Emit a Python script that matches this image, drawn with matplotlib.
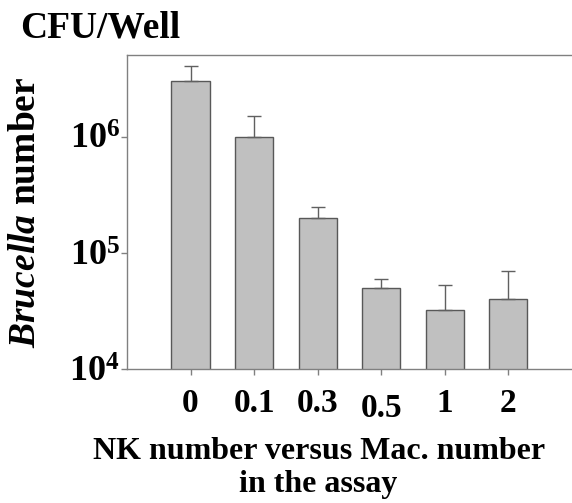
import numpy as np
import matplotlib.pyplot as plt
from matplotlib.transforms import ScaledTranslation

plt.rcParams['font.family'] = 'Liberation Serif'
plt.rcParams['font.weight'] = 'bold'
plt.rcParams['mathtext.fontset'] = 'custom'
plt.rcParams['mathtext.rm'] = 'Liberation Serif:bold'
plt.rcParams['mathtext.bf'] = 'Liberation Serif:bold'
plt.rcParams['mathtext.it'] = 'Liberation Serif:italic:bold'
plt.rcParams['mathtext.bfit'] = 'Liberation Serif:italic:bold'

# data
ratios = ['0', '0.1', '0.3', '0.5', '1', '2']
cfu = [3.0e6, 1.0e6, 2.0e5, 5.0e4, 3.2e4, 4.0e4]
cfu_err_top = [4.05e6, 1.5e6, 2.5e5, 6.0e4, 5.25e4, 7.0e4]
ytick_vals = [1e4, 1e5, 1e6]
ytick_labels = [r'$10^{4}$', r'$10^{5}$', r'$10^{6}$']

err = np.array(cfu_err_top) - np.array(cfu)
x = np.arange(len(ratios))

fig = plt.figure(figsize=(5.72, 5.03), dpi=100)
ax = fig.add_axes([0.222, 0.2664, 0.778, 0.6243])

spine_col = '#808080'
ax.bar(x, cfu, width=0.6, color='#c0c0c0', edgecolor='#585858', linewidth=1.0, zorder=2)
ax.errorbar(x, cfu, yerr=[np.zeros_like(err), err], fmt='none', ecolor='#606060',
            elinewidth=1.0, capsize=5, capthick=1.0, zorder=3)

ax.set_yscale('log')
ax.set_ylim(1e4, 5.06e6)
ax.set_xlim(-1, 6)

ax.spines['right'].set_visible(False)
for s in ['left', 'top', 'bottom']:
    ax.spines[s].set_color(spine_col)
    ax.spines[s].set_linewidth(1.0)

ax.set_yticks(ytick_vals)
ax.set_yticklabels(ytick_labels, fontsize=26)
ax.yaxis.set_minor_locator(plt.NullLocator())
ax.set_xticks(x)
ax.set_xticklabels(ratios, fontsize=24, fontweight='bold')
ax.tick_params(axis='both', color=spine_col, length=4, width=1.0)
ax.tick_params(axis='y', pad=1)
ax.tick_params(axis='x', pad=10)

# the "0.5" label sits a little lower in the original
lab = ax.get_xticklabels()[3]
lab.set_transform(lab.get_transform() + ScaledTranslation(0, -5 / 100, fig.dpi_scale_trans))

fig.text(0.035, 0.944, 'CFU/Well', fontsize=27, fontweight='bold', va='center', ha='left')
fig.text(0.044, 0.577, r'$\mathbfit{Brucella}$ number', fontsize=27, fontweight='bold',
         rotation=90, va='center', ha='center')
fig.text(0.557, 0.07, 'NK number versus Mac. number\nin the assay', fontsize=23,
         fontweight='bold', ha='center', va='center', linespacing=1.2)

fig.savefig('out.png', dpi=100)
